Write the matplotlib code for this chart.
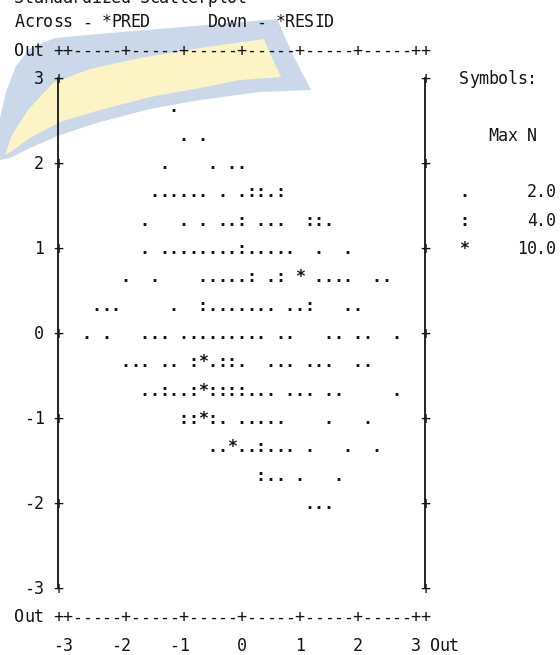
import matplotlib.pyplot as plt
from matplotlib.patches import Polygon

# residual rows (Down - *RESID) and predicted values (Across - *PRED) per row
resid = [2.67, 2.33, 2.0, 1.67, 1.33, 1.0, 0.67, 0.33, 0.0,
         -0.33, -0.67, -1.0, -1.33, -1.67, -2.0]

# cells with N <= 2  -> '.'
dots = [
    [-1.17],
    [-1.0, -0.67],
    [-1.33, -0.5, -0.17, 0.0],
    [-1.5, -1.33, -1.17, -1.0, -0.83, -0.67, -0.33, 0.0, 0.5],
    [-1.67, -1.0, -0.67, -0.33, -0.17, 0.33, 0.5, 0.67, 1.5],
    [-1.67, -1.33, -1.17, -1.0, -0.83, -0.67, -0.5, -0.33, -0.17,
     0.17, 0.33, 0.5, 0.67, 0.83, 1.33, 1.83],
    [-2.0, -1.5, -0.67, -0.5, -0.33, -0.17, 0.0, 0.5, 1.33, 1.5, 1.67,
     1.83, 2.33, 2.5],
    [-2.5, -2.33, -2.17, -1.17, -0.5, -0.33, -0.17, 0.0, 0.17, 0.33,
     0.5, 0.83, 1.0, 1.83, 2.0],
    [-2.67, -2.33, -1.67, -1.5, -1.33, -1.0, -0.83, -0.67, -0.5, -0.33,
     -0.17, 0.0, 0.17, 0.33, 0.67, 0.83, 1.5, 1.67, 2.0, 2.17, 2.67],
    [-2.0, -1.83, -1.67, -1.33, -1.17, -0.5, 0.0, 0.5, 0.67, 0.83, 1.17,
     1.33, 1.5, 2.0, 2.17],
    [-1.67, -1.5, -1.17, -1.0, 0.17, 0.33, 0.5, 0.83, 1.0, 1.17, 1.5,
     1.67, 2.67],
    [-0.33, 0.0, 0.17, 0.33, 0.5, 0.67, 1.5, 2.17],
    [-0.5, -0.33, 0.0, 0.17, 0.5, 0.67, 0.83, 1.17, 1.83, 2.33],
    [0.5, 0.67, 1.0, 1.67],
    [1.17, 1.33, 1.5],
]
# cells with N <= 4  -> ':'
colons = [
    [], [], [],
    [0.17, 0.33, 0.67],
    [0.0, 1.17, 1.33],
    [0.0],
    [0.17, 0.67],
    [-0.67, 1.17],
    [],
    [-0.83, -0.33, -0.17],
    [-1.33, -0.83, -0.5, -0.33, -0.17, 0.0],
    [-1.0, -0.83, -0.5],
    [0.33],
    [0.33],
    [],
]
# cells with N <= 10 -> '*'
stars = [
    [], [], [], [], [], [],
    [1.0],
    [], [],
    [-0.67],
    [-0.67],
    [-0.67],
    [-0.17],
    [], [],
]

ticks = [-3, -2, -1, 0, 1, 2, 3]
legend_syms = ['.', ':', '*']
legend_max = ['2.0', '4.0', '10.0']

W, H = 560, 655
x0_px, y0_px = 67.7, 339.0      # pixel of PRED=-3 / baseline of RESID=0
px_x, px_y = 58.0, 85.0         # pixels per unit
step = 1 / 6                    # one character column
row = 1 / 3                     # one text row

fig = plt.figure(figsize=(W / 100, H / 100), dpi=100)
ax = fig.add_axes([0, 0, 1, 1])
ax.set_xlim(-3 - x0_px / px_x, -3 + (W - x0_px) / px_x)
ax.set_ylim(-(H - y0_px) / px_y, y0_px / px_y)
ax.axis('off')

ink = '#141414'
font = dict(family='DejaVu Sans Mono', size=12, color=ink,
            ha='center', va='baseline', zorder=3)
mark = dict(font, weight='bold')


def col_x(c):
    return -3 + (c - 1) * step


def put(c, y, s, style=font):
    for i, ch in enumerate(s):
        if ch != ' ':
            ax.text(col_x(c + i), y, ch, **style)


# faint watermark swoosh behind the printout
def wm(pts, color):
    xy = [(x / W, 1 - y / H) for x, y in pts]
    ax.add_patch(Polygon(xy, closed=True, transform=ax.transAxes,
                         facecolor=color, edgecolor='none', zorder=0))


wm([(0, 160), (0, 118), (6, 92), (16, 66), (30, 48), (55, 38),
    (110, 33), (170, 28), (230, 23), (277, 19), (293, 55), (311, 90),
    (260, 92), (200, 100), (150, 109), (100, 122), (60, 135),
    (30, 148), (10, 158)],
   '#cbd8ea')
wm([(5, 155), (12, 135), (28, 110), (53, 83), (90, 69), (140, 58),
    (200, 48), (264, 39), (272, 58), (281, 77), (240, 80), (200, 88),
    (150, 97), (100, 110), (60, 122), (30, 138), (12, 151)],
   '#fdf4c6')

# header
put(-4, 3.95, 'Standardized Scatterplot')
put(-4, 3 + 2 * row, 'Across - *PRED')
put(16, 3 + 2 * row, 'Down - *RESID')

# top and bottom frame
ncol = 38
tick_cols = [1 + round((t + 3) / step) for t in ticks]
border = ''.join('+' if (c in tick_cols or c in (0, ncol)) else '-'
                 for c in range(ncol + 1))
for yb in (3 + row, -3 - row):
    put(-4, yb, 'Out')
    put(0, yb, border)

# left and right frame with y ticks
for c in (0, ncol):
    ax.plot([col_x(c)] * 2, [-3 + 0.07, 3 + 0.07], color=ink,
            lw=1.3, zorder=2)
    for t in ticks:
        put(c, t, '+')
for t in ticks:
    s = str(t)
    put(-1 - len(s), t, s)
    put(tick_cols[ticks.index(t)] - len(s) + 1, -3 - 2 * row, s)
put(ncol + 1, -3 - 2 * row, 'Out')

# data cells, printed as symbols like the original line printer output
for sym, cells in zip(legend_syms, (dots, colons, stars)):
    for y, xs in zip(resid, cells):
        for x in xs:
            ax.text(x, y, sym, **mark)

# symbol legend
put(42, 3, 'Symbols:')
put(45, 3 - 2 * row, 'Max N')
for i, (sym, mx) in enumerate(zip(legend_syms, legend_max)):
    yl = 3 - (4 + i) * row
    put(42, yl, sym, mark)
    put(52 - len(mx), yl, mx)

fig.savefig('out.png', dpi=100)
